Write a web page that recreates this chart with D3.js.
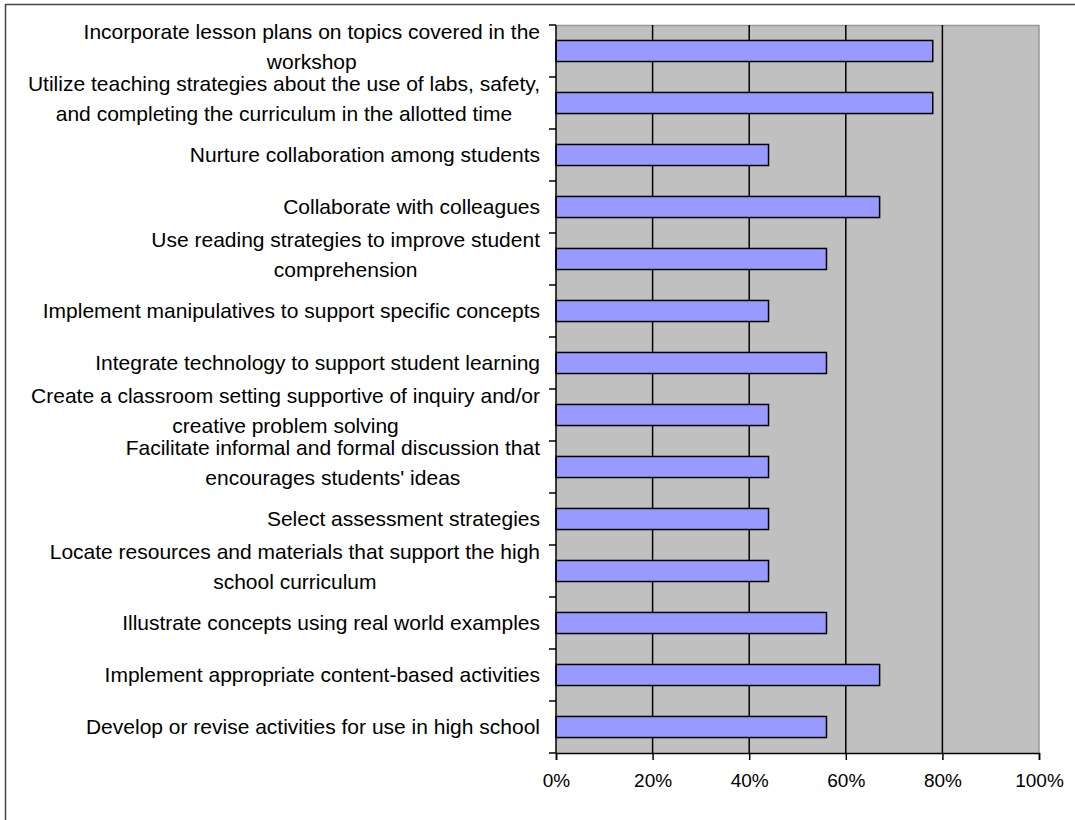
<!DOCTYPE html>
<html>
<head>
<meta charset="utf-8">
<script src="https://cdn.jsdelivr.net/npm/d3@7"></script>
<style>
  body { margin: 0; background: #fff; }
  svg { display: block; font-family: 'Liberation Sans', Arial, sans-serif; }
</style>
</head>
<body>
<div id="chart"></div>
<script>
// categories, top to bottom, with the line breaks used in the picture
const categories = [
  ['Incorporate lesson plans on topics covered in the', 'workshop'],
  ['Utilize teaching strategies about the use of labs, safety,', 'and completing the curriculum in the allotted time'],
  ['Nurture collaboration among students'],
  ['Collaborate with colleagues'],
  ['Use reading strategies to improve student', 'comprehension'],
  ['Implement manipulatives to support specific concepts'],
  ['Integrate technology to support student learning'],
  ['Create a classroom setting supportive of inquiry and/or', 'creative problem solving'],
  ['Facilitate informal and formal discussion that', 'encourages students\' ideas'],
  ['Select assessment strategies'],
  ['Locate resources and materials that support the high', 'school curriculum'],
  ['Illustrate concepts using real world examples'],
  ['Implement appropriate content-based activities'],
  ['Develop or revise activities for use in high school']
]
const values = [0.78, 0.78, 0.44, 0.67, 0.56, 0.44, 0.56, 0.44, 0.44, 0.44, 0.44, 0.56, 0.67, 0.56]
const xTicks = [0, 0.2, 0.4, 0.6, 0.8, 1]

const W = 1075, H = 820
const margin = {top: 25, right: 36, bottom: 67, left: 556}
const width = W - margin.left - margin.right
const height = H - margin.top - margin.bottom

const svg = d3.select('#chart').append('svg')
  .attr('width', W)
  .attr('height', H)

// outer frame (top and left edges visible)
svg.append('line').attr('x1', 5).attr('x2', W).attr('y1', 4.5).attr('y2', 4.5)
  .attr('stroke', '#444').attr('stroke-width', 1.5)
svg.append('line').attr('x1', 5.5).attr('x2', 5.5).attr('y1', 4).attr('y2', H)
  .attr('stroke', '#444').attr('stroke-width', 1.5)

const g = svg.append('g')
  .attr('transform', 'translate(' + margin.left + ',' + margin.top + ')')

const idx = d3.range(categories.length)
const x = d3.scaleLinear().domain([0, 1]).range([0, width])
const y = d3.scaleBand().domain(idx).range([0, height]).paddingInner(0.595).paddingOuter(0.2975)
const yEdges = d3.scaleLinear().domain([0, categories.length]).range([0, height])

// plot background
g.append('rect')
  .attr('width', width).attr('height', height)
  .attr('fill', '#c0c0c0')
g.append('path')
  .attr('d', 'M0,0.5H' + width + 'V' + height)
  .attr('fill', 'none').attr('stroke', '#999').attr('stroke-width', 1.5)

// vertical gridlines
g.selectAll('.grid').data(xTicks.slice(1, -1)).join('line')
  .attr('class', 'grid')
  .attr('x1', d => x(d)).attr('x2', d => x(d))
  .attr('y1', 0).attr('y2', height)
  .attr('stroke', '#000').attr('stroke-width', 1.5)

// bars
g.selectAll('.bar').data(values).join('rect')
  .attr('class', 'bar')
  .attr('x', 0)
  .attr('y', (d, i) => y(i))
  .attr('width', d => x(d))
  .attr('height', y.bandwidth())
  .attr('fill', '#9999ff')
  .attr('stroke', '#000')
  .attr('stroke-width', 1.5)

// y axis line with ticks at band edges
g.append('line').attr('x1', 0).attr('x2', 0).attr('y1', 0).attr('y2', height)
  .attr('stroke', '#000').attr('stroke-width', 1.5)
g.selectAll('.ytick').data(d3.range(categories.length + 1)).join('line')
  .attr('class', 'ytick')
  .attr('x1', -7).attr('x2', 0)
  .attr('y1', d => yEdges(d)).attr('y2', d => yEdges(d))
  .attr('stroke', '#000').attr('stroke-width', 1.5)

// x axis
const xAxis = d3.axisBottom(x).tickValues(xTicks).tickFormat(d3.format('.0%')).tickSize(7).tickPadding(14)
const xg = g.append('g')
  .attr('transform', 'translate(0,' + height + ')')
  .call(xAxis)
xg.select('.domain').attr('stroke', '#000').attr('stroke-width', 1.5)
xg.selectAll('.tick line').attr('stroke', '#000').attr('stroke-width', 1.5)
xg.selectAll('.tick text')
  .attr('font-size', 19).attr('fill', '#000')
  .attr('font-family', "'Liberation Sans', Arial, sans-serif")

// category labels: right-aligned block, lines centred within it
const lineGap = 30
const labelRight = -16
const labels = g.selectAll('.cat').data(categories).join('g')
  .attr('class', 'cat')
labels.each(function(lines, i) {
  const grp = d3.select(this)
  const cy = y(i) + y.bandwidth() / 2 - (lines.length > 1 ? 4 : 0)
  const texts = grp.selectAll('text').data(lines).join('text')
    .attr('font-size', 21)
    .attr('fill', '#000')
    .attr('dy', '0.35em')
    .attr('y', (d, k) => cy + (k - (lines.length - 1) / 2) * lineGap)
    .text(d => d)
  let maxW = 0
  texts.each(function() { maxW = Math.max(maxW, this.getComputedTextLength()) })
  texts.attr('text-anchor', 'middle').attr('x', labelRight - maxW / 2)
})
</script>
</body>
</html>
